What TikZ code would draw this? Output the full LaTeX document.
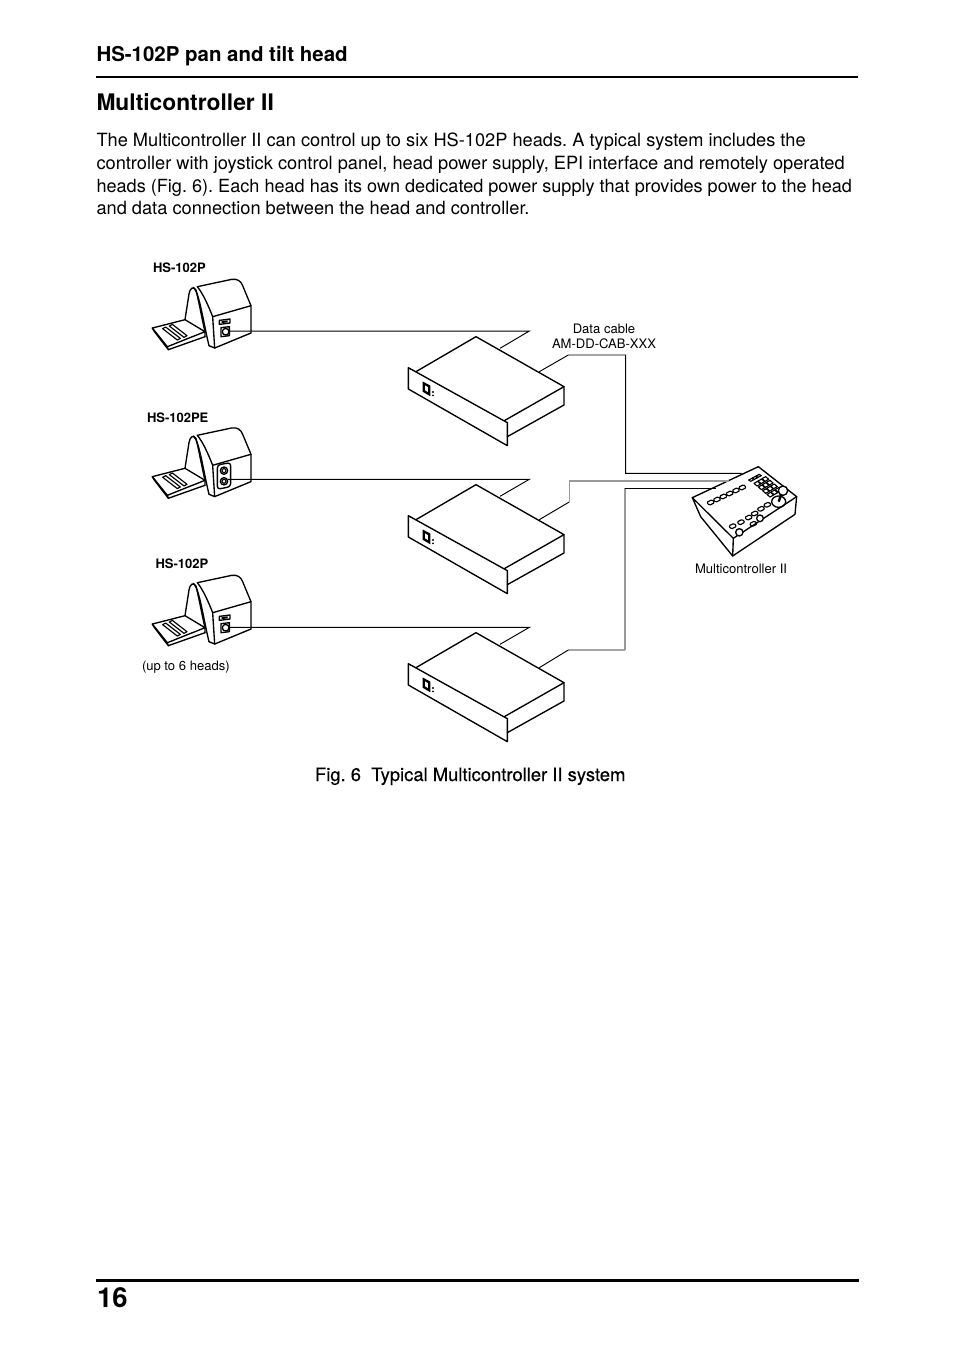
\documentclass[tikz,border=0pt]{standalone}
\usepackage{fontspec}
\setmainfont{TeX Gyre Heros}
\newfontfamily\capfont[FakeBold=0.4]{TeX Gyre Heros}
\usetikzlibrary{calc}
\frenchspacing
\tikzset{
  txt/.style={anchor=base west,inner sep=0pt,outer sep=0pt,text=black},
  ctr/.style={anchor=base,inner sep=0pt,outer sep=0pt,text=black},
  bodyline/.style={txt,font=\fontsize{18.23}{22}\selectfont\frenchspacing},
  lab/.style={font=\fontsize{13.05}{15}\selectfont},
  blab/.style={font=\fontsize{13}{15}\selectfont\bfseries},
  ln/.style={line width=1.35pt,line join=round,line cap=round},
  thin ln/.style={line width=1.15pt,line join=round,line cap=round},
  cable/.style={line width=.95pt,line join=miter},
  graycable/.style={line width=1.2pt,draw=black!40},
}
\newcommand{\headshape}{%
  \draw[ln] (172,108) -- (275,86) .. controls (293,83) and (303,92) .. (308,105) -- (333,165) -- (333,247) -- (224,292);
  \draw[ln] (172,108) .. controls (190,130) and (205,165) .. (218,198) -- (333,165);
  \draw[ln] (218,198) -- (224,292) -- (207,285);
  \draw[ln] (135,207) -- (147,130) .. controls (150,112) and (160,105) .. (168,118) .. controls (174,140) and (185,200) .. (195,243) -- (195,258);
  \draw[ln] (160,110) .. controls (178,125) and (188,205) .. (207,285);
  \draw[ln] (135,207) -- (195,243) -- (82,288) -- (37,232) -- cycle;
  \draw[ln] (37,232) -- (42,241) -- (85,297) -- (82,288);
  \draw[ln] (85,297) -- (195,258);
  \draw[thin ln] (68,234) -- (77,229) -- (121,263) -- (112,268) -- cycle;
  \draw[thin ln] (88,226) -- (97,221) -- (141,255) -- (132,260) -- cycle;
}
\newcommand{\portA}{%
  \draw[ln] (238,209) -- (270,205) -- (270,217) -- (238,221) -- cycle;
  \draw[line width=2pt] (245,214) -- (263,212);
  \draw[ln] (243,231) -- (268,228) -- (268,255) -- (243,258) -- cycle;
  \draw[ln] (257,243) circle (10);
}
\newcommand{\rackshape}{%
  \draw[ln] (25,143) -- (322,308) -- (322,377) -- (25,207) -- cycle;
  \draw[ln] (48,155) -- (228,50) -- (492,200) -- (313,302);
  \draw[ln] (492,200) -- (492,255) -- (322,350);
  \draw[line width=2.3pt] (71,190) -- (88,199) -- (88,223) -- (71,213) -- cycle;
  \fill (99,216) circle (3.2);
  \fill (99,226) circle (3.2);
}
\begin{document}
\begin{tikzpicture}[x=1pt,y=-1pt]
\useasboundingbox[fill=white] (0,0) rectangle (954,1352);
% page text
\node[txt,font=\fontsize{20.45}{24}\selectfont\bfseries] (title) at (96.5,61.5) {HS-102P pan and tilt head};
\draw[line width=2pt] (96,77) -- (858,77);
\node[txt,font=\fontsize{22.8}{26}\selectfont\bfseries] (sect) at (96.5,110) {Multicontroller II};
\node[bodyline] (b1) at (96.5,146) {The Multicontroller II can control up to six HS-102P heads. A typical system includes the};
\node[bodyline] (b2) at (96.5,169) {controller with joystick control panel, head power supply, EPI interface and remotely operated};
\node[bodyline,font=\fontsize{18.1}{22}\selectfont\frenchspacing] (b3) at (96.5,192) {heads (Fig. 6). Each head has its own dedicated power supply that provides power to the head};
\node[bodyline] (b4) at (96.5,214) {and data connection between the head and controller.};
\node[txt,font=\fontsize{18.4}{21}\capfont] (cap) at (315,781) {Fig. 6\ \ Typical Multicontroller II system};
\draw[line width=3pt] (96,1280) -- (859,1280);
\node[txt,font=\fontsize{27.5}{32}\selectfont\bfseries] (pg) at (97,1307) {16};
% labels
\node[txt,blab] (h1) at (153,272) {HS-102P};
\node[txt,blab] (h2) at (147,422) {HS-102PE};
\node[txt,blab] (h3) at (155.5,568) {HS-102P};
\node[txt,lab] (up) at (142,670) {(up to 6 heads)};
\node[ctr,lab] (dc1) at (604,333) {Data cable};
\node[ctr,lab] (dc2) at (604,348) {AM-DD-CAB-XXX};
\node[txt,lab] (mc) at (695,573) {Multicontroller II};
% heads
\begin{scope}[shift={(140,250.7)},x=.3333pt,y=-.3333pt]\headshape\portA\coordinate (p1) at (268,241);\end{scope}
\begin{scope}[shift={(140,399.3)},x=.3333pt,y=-.3333pt]\headshape
  \draw[ln,rounded corners=3pt] (232,197) -- (272,190) -- (272,262) -- (232,270) -- cycle;
  \draw[ln] (252,214) circle (11); \draw[thin ln] (252,214) circle (6);
  \draw[ln] (252,246) circle (11); \draw[thin ln] (252,246) circle (6);
  \coordinate (p2) at (263,240);\end{scope}
\begin{scope}[shift={(140,546.7)},x=.3333pt,y=-.3333pt]\headshape\portA\coordinate (p3) at (268,242);\end{scope}
% racks
\begin{scope}[shift={(400,320)},x=.3333pt,y=-.3333pt]\rackshape
  \coordinate (r1a) at (300,85); \coordinate (r1b) at (418,155);\end{scope}
\begin{scope}[shift={(400,468)},x=.3333pt,y=-.3333pt]\rackshape
  \coordinate (r2a) at (300,85); \coordinate (r2b) at (418,155);\end{scope}
\begin{scope}[shift={(400,616)},x=.3333pt,y=-.3333pt]\rackshape
  \coordinate (r3a) at (300,85); \coordinate (r3b) at (418,155);\end{scope}
% head cables
\coordinate (k1) at (529.3,331); \coordinate (k2) at (529.3,479.3); \coordinate (k3) at (529.3,627.5);
\draw[cable] (p1) -- (p1 -| k1) -- (r1a);
\draw[cable] (p2) -- (p2 -| k2) -- (r2a);
\draw[cable] (p3) -- (p3 -| k3) -- (r3a);
% controller
\begin{scope}[shift={(680,455)},x=.3333pt,y=-.3333pt]
  \coordinate (c1) at (185,55); \coordinate (c2) at (146,77); \coordinate (c3) at (108,100);
  \draw[ln] (37,128) -- (235,35) -- (350,125) -- (160,250) -- cycle;
  \draw[ln] (37,128) -- (62,185) -- (158,303) -- (160,250);
  \draw[ln] (350,125) -- (345,178) -- (158,303);
  \foreach \p in {(92,142),(111,133),(130,124),(149,115),(168,106),(187,97),(158,213),(183,201),(206,187),(224,175),(243,161),(262,149),(220,206)}{
    \draw[thin ln,rounded corners=1.2pt] \p ++(-12,0) -- ++(16,-8) -- ++(8,9) -- ++(-16,8) -- cycle;}
  \foreach \i in {0,1,2,3}{\foreach \j in {0,1,2}{
    \draw[thin ln] ($(222,85)+(\i*13,\i*11)+(\j*12,-\j*7)$) -- ++(11,-6) -- ++(9,8) -- ++(-11,6) -- cycle;}}
  \foreach \j in {0,1,2}{\draw[thin ln] ($(206,75)+(\j*11,-\j*6)$) -- ++(10,-5) -- ++(6,4) -- ++(-10,5) -- cycle;}
  \draw[ln,fill=white] (178,232) circle (11);
  \draw[ln,fill=white] (240,190) circle (10);
  \draw[ln] (296,140) ellipse (21 and 17);
  \draw[line width=2.4pt] (296,140) -- (306,112);
  \fill[white,draw=black,line width=1.35pt] (309,107) circle (14);
\end{scope}
% data cables
\coordinate (v1) at (625.7,355); \coordinate (d2) at (569.2,502);
\draw[cable] (r1b) -- (568.3,355) -- (v1) -- (625.7,473.3) -- (c1 |- 0,473.3);
\draw[cable] (r2b) -- (d2);
\draw[graycable] (d2) -- (569.2,481) -- (c2 |- 0,481);
\draw[cable] (r3b) -- (568.3,650) -- (625,650);
\draw[graycable] (625,650) -- (625,488.4);
\draw[cable] (624.5,488.4) -- (c3 |- 0,488.4);
\end{tikzpicture}
\end{document}
